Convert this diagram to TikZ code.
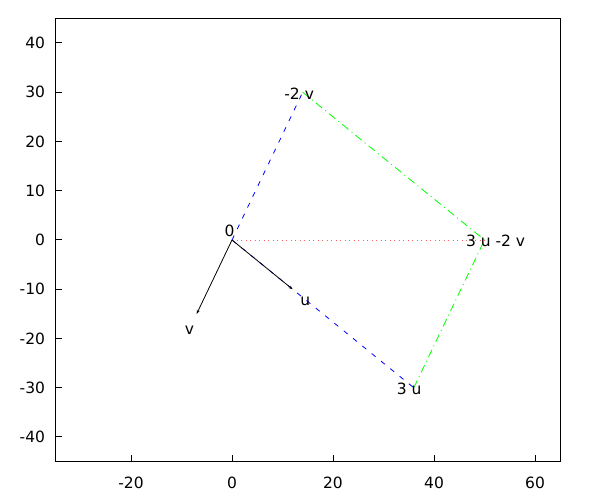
\documentclass[tikz,border=0pt]{standalone}
\usepackage{fontspec}
\setmainfont{DejaVu Sans}
\usetikzlibrary{arrows.meta}
\definecolor{plotBlue}{HTML}{0000FF}
\definecolor{plotGreen}{HTML}{00FF00}
\definecolor{plotRed}{HTML}{FF6060}

\tikzset{
  frameline/.style={black, line width=1pt},
  ticklabel/.style={inner sep=0pt, font=\fontsize{15.5}{18}\selectfont},
  vlabel/.style={inner sep=0pt, font=\fontsize{15.5}{18}\selectfont},
  vecarrow/.style={-{Stealth[length=4pt, width=3pt]}, black, line width=0.8pt},
  bluedash/.style={plotBlue, line width=0.8pt, dash pattern=on 5pt off 7pt},
  greendash/.style={plotGreen, line width=0.8pt, dash pattern=on 8pt off 4pt on 1pt off 4pt},
  reddot/.style={plotRed, line width=0.5pt, dash pattern=on 1pt off 3.5pt}
}

\begin{document}
\begin{tikzpicture}[x=1pt, y=1pt]
  \useasboundingbox (0,0) rectangle (600,500);
  \begin{scope}[shift={(232pt,260pt)}, x=5.05pt, y=4.925pt]
    % frame and ticks
    \draw[frameline] (-35,-45) rectangle (65,45);
    \foreach \xv in {-20,0,...,60}{
      \draw[frameline] (\xv,-45) -- ++(0,7pt);
      \node[ticklabel, anchor=north] (xl\xv) at ([yshift=-15pt]\xv,-45) {\xv};
    }
    \foreach \yv in {-40,-30,...,40}{
      \draw[frameline] (-35,\yv) -- ++(7pt,0);
      \node[ticklabel, anchor=east] (yl\yv) at ([xshift=-10pt]-35,\yv) {\yv};
    }

    % vectors
    \coordinate (O) at (0,0);
    \coordinate (U) at (12,-10);
    \coordinate (V) at (-7,-15);
    \coordinate (TU) at (36,-30);
    \coordinate (MV) at (14,30);
    \coordinate (S) at (50,0);

    \draw[bluedash] (O) -- (MV);
    \draw[bluedash] (O) -- (TU);
    \draw[greendash] (MV) -- (S);
    \draw[greendash] (TU) -- (S);
    \draw[reddot] (O) -- (S);
    \draw[vecarrow] (O) -- (U);
    \draw[vecarrow] (O) -- (V);

    % labels
    \node[vlabel] (lO) at (-0.5,1.8) {0};
    \node[vlabel] (lV) at (-8.4,-18.3) {v};
    \node[vlabel] (lU) at (14.5,-12.4) {u};
    \node[vlabel] (lMV) at (13.3,29.6) {-2 v};
    \node[vlabel] (lS) at (52.2,-0.2) {3 u -2 v};
    \node[vlabel] (lTU) at (35.1,-30.2) {3 u};
  \end{scope}
\end{tikzpicture}
\end{document}
